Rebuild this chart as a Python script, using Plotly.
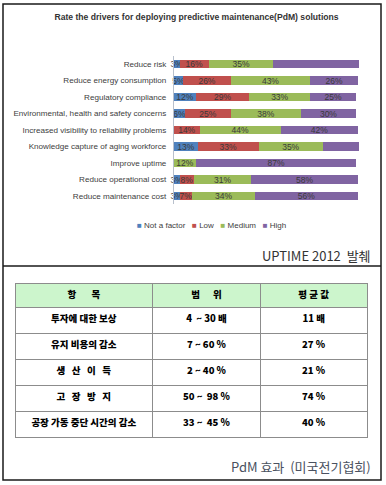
import plotly.graph_objects as go

W, H = 386, 485

# ---------------- data ----------------
categories = [
    "Reduce risk",
    "Reduce energy consumption",
    "Regulatory compliance",
    "Environmental, health and safety concerns",
    "Increased visibility to reliability problems",
    "Knowledge capture of aging workforce",
    "Improve uptime",
    "Reduce operational cost",
    "Reduce maintenance cost",
]
series_names = ["Not a factor", "Low", "Medium", "High"]
not_a_factor = [3, 5, 12, 6, 0, 13, 0, 3, 3]
low = [16, 26, 29, 25, 14, 33, 0, 8, 7]
medium = [35, 43, 33, 38, 44, 35, 12, 31, 34]
high = [47, 26, 25, 30, 42, 20, 87, 58, 56]
series_values = [not_a_factor, low, medium, high]
series_colors = ["#4F81BD", "#C0504D", "#9BBB59", "#8064A2"]

chart_title = "Rate the drivers for deploying predictive maintenance(PdM) solutions"
NB = "\u00a0"
source_top = f"UPTIME 2012{NB*2}발췌"

table_header = [f"항{NB*7}목", f"범{NB*6}위", f"평{NB}균{NB}값"]
table_items = [
    "투자에 대한 보상",
    "유지 비용의 감소",
    f"생{NB*3}산{NB*3}이{NB*3}득",
    f"고{NB*3}장{NB*3}방{NB*3}지",
    "공장 가동 중단 시간의 감소",
]
table_ranges = [f"4{NB*2}~ 30 배", "7 ~ 60 %", "2 ~ 40 %", f"50 ~{NB*2}98 %", f"33 ~{NB*2}45 %"]
table_means = ["11 배", "27 %", "21 %", "74 %", "40 %"]
source_bottom = f"PdM 효과{NB*2}(미국전기협회)"

# ---------------- helpers ----------------
def px_x(x):
    return x / W

def px_y(y):
    return 1 - y / H

SANS = "Liberation Sans, Arial, sans-serif"
KR = "Noto Sans CJK KR, sans-serif"

fig = go.Figure()

for name, vals, col in zip(series_names, series_values, series_colors):
    fig.add_trace(go.Bar(
        y=categories,
        x=vals,
        name=name,
        orientation="h",
        marker=dict(color=col, line=dict(width=0)),
        text=[f"{v}%" if v > 0 else "" for v in vals],
        textposition="inside",
        insidetextanchor="middle",
        textangle=0,
        constraintext="none",
        textfont=dict(family=SANS, size=8.5, color="#3a3a3a"),
        cliponaxis=False,
        showlegend=False,
    ))

# legend built from series names/colours
legend_text = (NB * 3).join(
    f'<span style="color:{c}">■</span>{NB}{n}' for n, c in zip(series_names, series_colors)
)

fig.add_trace(go.Table(
    domain=dict(x=[px_x(15), px_x(367)], y=[px_y(470), px_y(283)]),
    columnwidth=[138, 108, 107],
    header=dict(
        values=table_header,
        fill_color="#ccf5cc",
        line=dict(color="#8c8c8c", width=1),
        font=dict(family=KR, size=9.5, color="#000000", weight=900),
        align="center",
        height=24,
    ),
    cells=dict(
        values=[table_items, table_ranges, table_means],
        fill_color="#ffffff",
        line=dict(color="#8c8c8c", width=1),
        font=dict(family=KR, size=9.5, color="#000000", weight=900),
        align="center",
        height=26,
    ),
))

fig.update_layout(
    width=W, height=H,
    margin=dict(l=0, r=0, t=0, b=0, autoexpand=False),
    paper_bgcolor="white",
    plot_bgcolor="white",
    barmode="stack",
    bargap=0.48,
    showlegend=False,
    title=dict(
        text=chart_title,
        x=px_x(196.5), xanchor="center",
        y=px_y(17), yanchor="middle",
        font=dict(family=SANS, size=8.6, color="#333333", weight="bold"),
    ),
    xaxis=dict(
        domain=[px_x(174), px_x(359)],
        range=[0, 100.5],
        visible=False,
        showgrid=False,
        zeroline=False,
        fixedrange=True,
    ),
    yaxis=dict(
        domain=[px_y(204.25), px_y(55.75)],
        autorange="reversed",
        automargin=False,
        showgrid=False,
        zeroline=False,
        showline=True,
        linecolor="#b8c0cc",
        linewidth=1,
        ticks="",
        ticklabelstandoff=5,
        tickfont=dict(family=SANS, size=8.1, color="#404040"),
    ),
    shapes=[
        dict(type="rect", xref="paper", yref="paper",
             x0=px_x(3), x1=px_x(381), y0=px_y(480), y1=px_y(4),
             line=dict(color="#1a1a1a", width=1.5)),
        dict(type="line", xref="paper", yref="paper",
             x0=px_x(3), x1=px_x(381), y0=px_y(266), y1=px_y(266),
             line=dict(color="#1a1a1a", width=1.5)),
    ],
    annotations=[
        dict(text=legend_text, xref="paper", yref="paper",
             x=px_x(211), y=px_y(225), xanchor="center", yanchor="middle",
             showarrow=False, font=dict(family=SANS, size=8, color="#404040")),
        dict(text=source_top, xref="paper", yref="paper",
             x=px_x(373), y=px_y(255), xanchor="right", yanchor="middle",
             showarrow=False, font=dict(family=KR, size=13, color="#333333")),
        dict(text=source_bottom, xref="paper", yref="paper",
             x=px_x(373), y=px_y(466), xanchor="right", yanchor="middle",
             showarrow=False, font=dict(family=KR, size=13, color="#4a5160")),
    ],
)

fig.write_html(
    "out.html",
    config={"displayModeBar": False},
    post_script="document.body.style.margin='0px';document.body.style.padding='0px';",
)
